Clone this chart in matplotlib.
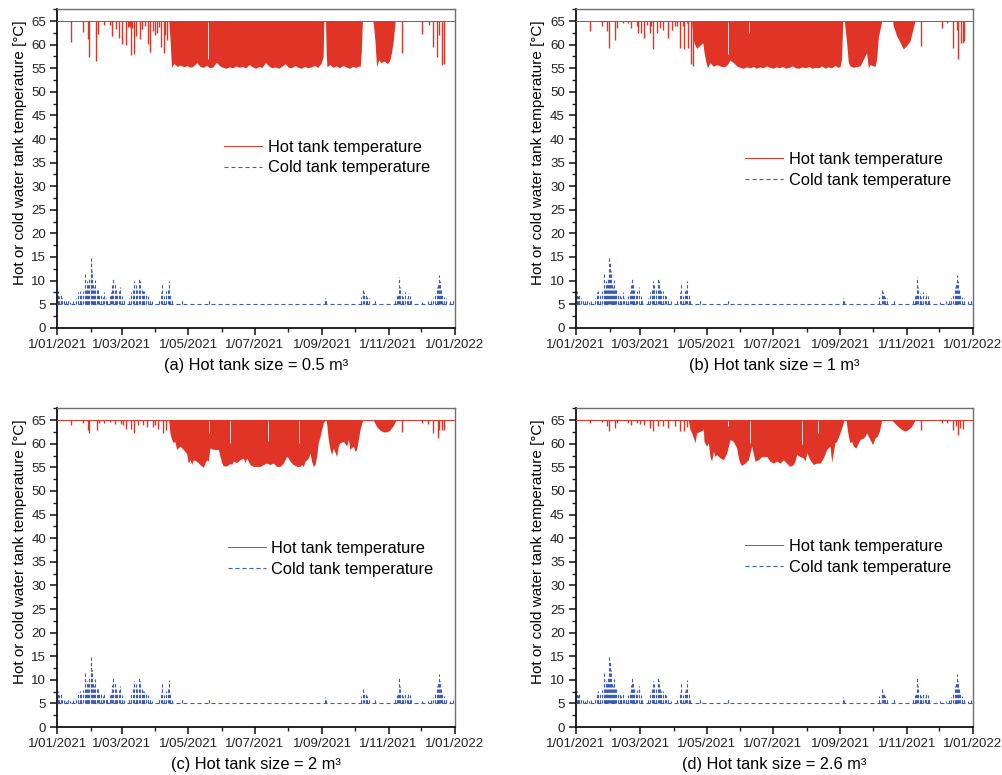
import numpy as np
import matplotlib
matplotlib.use('Agg')
import matplotlib.pyplot as plt
import matplotlib.dates as mdates
from matplotlib.ticker import MultipleLocator, FuncFormatter
import datetime as dt

plt.rcParams['font.family'] = ['Liberation Sans', 'DejaVu Sans']

# ---------------- data (day of year 2021, temperature in °C) ----------------
HOT_SET = 65.0
COLD_SET = 5.0

panel_titles = ['(a) Hot tank size = 0.5 m³', '(b) Hot tank size = 1 m³',
                '(c) Hot tank size = 2 m³', '(d) Hot tank size = 2.6 m³']

# isolated hot-tank dips (day, minimum temperature)
hot_spikes_a = [(12.6, 60.6), (23.9, 62.7), (28.5, 61.1), (29.4, 57.3), (35.5, 56.5), (37.6, 62.3),
                (42.8, 64.1), (48.0, 64.1), (49.9, 61.8), (53.5, 63.4), (56.6, 61.5), (59.7, 60.1),
                (62.8, 59.9), (64.5, 63.7), (65.5, 64.0), (66.5, 63.8), (67.6, 57.8), (68.8, 63.5),
                (70.1, 58.1), (72.2, 61.8), (75.9, 61.1), (78.0, 63.4), (80.5, 64.0), (83.0, 60.2),
                (85.1, 58.5), (87.5, 62.8), (89.7, 62.0), (91.2, 62.5), (93.0, 63.8), (95.2, 59.5),
                (98.2, 58.2), (99.2, 62.0), (101.0, 61.0), (316.0, 58.2), (335.0, 62.2), (341.0, 64.1),
                (345.0, 59.5), (348.8, 57.4), (350.3, 62.0), (352.8, 55.6), (354.9, 55.8)]
hot_spikes_b = [(12.9, 62.8), (24.2, 64.0), (28.5, 63.0), (30.0, 59.3), (35.9, 60.9), (38.0, 63.5),
                (43.5, 64.7), (48.1, 64.6), (50.3, 63.5), (55.8, 63.9), (57.3, 62.5), (60.1, 62.5),
                (62.8, 61.4), (65.0, 64.2), (67.7, 62.5), (69.0, 64.0), (71.1, 59.1), (74.2, 62.5),
                (77.2, 63.5), (79.9, 63.2), (84.9, 61.4), (88.0, 63.2), (91.0, 63.9), (92.6, 63.9),
                (95.6, 59.3), (98.1, 63.9), (99.6, 59.0), (101.7, 64.6), (103.3, 59.3), (105.4, 55.8),
                (107.8, 55.5), (316.9, 59.8), (336.2, 63.5), (341.4, 64.6), (346.3, 59.3), (350.0, 63.2),
                (351.5, 56.9), (353.6, 60.4), (355.5, 60.4), (356.7, 60.8)]
hot_spikes_c = [(12.6, 63.9), (23.9, 64.4), (28.5, 63.0), (29.4, 62.2), (36.2, 62.9), (38.0, 64.4),
                (42.8, 64.4), (48.4, 64.6), (53.3, 64.2), (58.5, 64.2), (60.1, 64.0), (62.7, 63.2),
                (67.3, 63.2), (70.7, 62.3), (74.4, 64.0), (78.9, 64.0), (82.0, 63.6), (87.5, 63.6),
                (89.7, 63.9), (92.7, 63.2), (97.3, 62.3), (99.7, 63.0), (316.0, 62.4), (334.4, 64.4),
                (340.5, 64.1), (345.0, 62.3), (349.0, 61.2), (350.6, 63.0), (352.7, 62.8), (355.2, 62.8)]
hot_spikes_d = [(12.9, 64.3), (24.2, 64.6), (28.5, 63.7), (30.0, 62.7), (35.9, 63.4), (38.0, 64.4),
                (48.1, 64.4), (50.3, 64.0), (55.8, 64.4), (59.0, 64.2), (62.8, 64.0), (67.7, 63.4),
                (71.1, 62.7), (75.7, 63.7), (80.3, 63.7), (84.9, 63.4), (91.0, 63.7), (95.6, 62.7),
                (99.6, 62.7), (102.0, 63.5), (316.9, 63.0), (336.2, 64.4), (341.4, 64.4), (346.3, 62.8),
                (349.3, 63.7), (350.9, 61.9), (353.0, 63.4), (356.0, 63.2)]

# lower envelope of the dense (continuous cycling) periods (day, minimum temperature)
hot_env_a = [(102.3, 65), (103.5, 61), (104.8, 55.2), (107, 56.0), (110, 55.4), (113, 55.7), (116, 55.3),
             (119, 55.6), (122, 55.2), (125, 55.5), (128, 56.2), (131, 55.4), (134, 55.2), (137, 55.6),
             (140, 55.1), (143, 55.3), (146, 56.3), (149, 55.5), (152, 55.2), (155, 55.0), (158, 55.3),
             (161, 55.1), (164, 55.5), (167, 55.2), (170, 55.4), (173, 55.1), (176, 55.8), (179, 55.3),
             (182, 55.0), (185, 55.4), (188, 55.2), (191, 56.2), (194, 55.5), (197, 55.1), (200, 55.3),
             (203, 55.0), (206, 55.4), (209, 56.0), (212, 55.2), (215, 55.1), (218, 55.6), (221, 55.2),
             (224, 55.0), (227, 55.4), (230, 55.1), (233, 55.3), (236, 55.6), (239, 55.2), (242, 56.0),
             (244, 57.5), (244.6, 65),
             (246.2, 65), (246.8, 58), (247.5, 55.3), (250, 55.8), (253, 55.2), (256, 55.5), (259, 55.1),
             (262, 55.6), (265, 55.3), (268, 55.0), (271, 55.4), (274, 55.2), (277, 55.5), (278, 55.4),
             (279, 58.5), (280, 65),
             (289.6, 65), (290.5, 63.4), (291.6, 60.6), (293, 55.3), (295, 56.8), (297, 56.2), (300, 56.5),
             (303, 56.0), (305, 56.6), (306.5, 58.1), (308, 60.2), (309.9, 64.4), (310.2, 65)]
hot_env_b = [(106.3, 65), (107.3, 62), (108.5, 60.4), (110.9, 59.2), (114.0, 59.9), (116.5, 60.4),
             (118.0, 58.0), (119.5, 56.3), (120.8, 55.1), (123.2, 56.2), (126.3, 55.4), (129.3, 55.8),
             (132.4, 55.5), (135.5, 55.3), (138.5, 55.6), (141.6, 56.7), (144.7, 56.2), (147.7, 55.5),
             (150.8, 55.2), (153.8, 55.0), (156.9, 55.3), (160.0, 55.1), (163, 55.4), (166, 55.0),
             (169, 55.3), (172, 55.1), (175, 55.5), (178, 55.2), (181, 55.0), (184, 55.3), (187, 55.1),
             (190, 55.4), (193, 55.0), (196, 55.2), (199, 55.5), (202, 55.1), (205, 55.0), (208, 55.3),
             (211, 55.1), (214, 55.4), (217, 55.0), (220, 55.2), (223, 55.1), (226, 55.5), (229, 55.0),
             (232, 55.3), (235, 55.1), (238, 55.6), (241, 55.2), (242.7, 55.3), (244.2, 57), (245.2, 65),
             (246.7, 65), (248.8, 60.4), (250.4, 56.2), (251.9, 55.5), (255.0, 55.2), (258.0, 55.4),
             (261.1, 55.5), (264.2, 56.9), (267.2, 58.3), (268.8, 55.1), (270.3, 55.8), (273.4, 55.5),
             (274.9, 55.4), (276.4, 56.9), (278.0, 61.7), (279.5, 63.2), (281.0, 65),
             (291.1, 65), (291.7, 64.0), (294.8, 61.9), (297.9, 60.5), (300.9, 59.1), (304.0, 59.8),
             (307.1, 60.8), (310.1, 63.6), (311.7, 65)]
hot_env_c = [(102.2, 65), (103.4, 62.3), (105.0, 60.9), (106.5, 60.2), (108.0, 60.5), (109.5, 58.8),
             (112.6, 59.5), (115.6, 58.8), (118.7, 57.9), (120.2, 55.9), (121.8, 56.6), (123.3, 55.6),
             (124.8, 56.6), (127.9, 56.3), (130.9, 55.6), (134.0, 55.0), (135.5, 55.9), (137.1, 56.6),
             (138.6, 56.3), (140.1, 59.1), (143.2, 58.8), (147.8, 58.8), (150.8, 56.0), (152.4, 55.3),
             (155.4, 55.3), (158.5, 55.8), (160.0, 55.6), (161.6, 56.3), (164.6, 56.0), (167.7, 56.6),
             (170.7, 57.0), (172.3, 56.0), (173.8, 57.0), (176.8, 55.6), (179.9, 55.2), (182.9, 55.2),
             (186.0, 55.2), (189.1, 55.6), (192.1, 55.9), (195.2, 55.6), (198.3, 55.9), (201.3, 55.2),
             (204.4, 55.2), (207.4, 55.9), (210.5, 57.3), (212.0, 57.0), (213.5, 56.3), (216.6, 55.6),
             (219.7, 55.2), (222.7, 55.2), (224.2, 55.6), (225.8, 55.2), (227.3, 56.3), (228.9, 56.6),
             (230.4, 57.0), (231.9, 58.0), (233.4, 56.3), (235.0, 55.2), (236.5, 55.6), (238.0, 57.3),
             (239.5, 60.2), (241.1, 61.5), (242.6, 63.0), (244.1, 64.4), (245.7, 65),
             (246.6, 65), (247.2, 64.3), (248.7, 60.9), (250.3, 58.8), (251.8, 57.7), (253.3, 59.1),
             (256.4, 57.3), (257.9, 59.5), (259.4, 60.2), (262.5, 60.5), (265.6, 59.5), (267.1, 60.9),
             (268.6, 58.8), (271.7, 59.5), (273.2, 58.4), (274.7, 58.8), (276.3, 60.9), (277.8, 63.0),
             (280.3, 65),
             (290.0, 65), (291.6, 64.3), (293.1, 63.6), (296.1, 62.9), (299.2, 62.5), (302.3, 62.5),
             (305.3, 62.9), (308.4, 63.9), (310.8, 65)]
hot_env_d = [(103.3, 65), (104.8, 63.0), (106.3, 62.3), (107.9, 61.3), (109.4, 60.2), (110.9, 62.3),
             (114.0, 62.6), (117.1, 63.0), (117.7, 60.5), (120.1, 59.5), (121.7, 60.2), (123.2, 57.3),
             (124.7, 56.3), (126.3, 58.4), (127.8, 57.3), (129.3, 57.7), (132.4, 57.0), (135.5, 56.6),
             (138.5, 58.0), (141.6, 60.9), (144.7, 60.5), (147.7, 59.1), (149.3, 57.0), (150.8, 55.9),
             (152.3, 55.4), (155.4, 55.9), (158.4, 56.6), (161.5, 59.5), (164.6, 56.3), (167.6, 56.6),
             (170.7, 57.3), (175.3, 57.3), (178.4, 56.3), (181.4, 55.9), (184.5, 56.3), (187.6, 55.9),
             (190.6, 56.6), (193.7, 55.9), (196.7, 55.2), (199.8, 55.6), (201.3, 56.3), (202.9, 57.7),
             (205.9, 57.3), (209.0, 57.0), (210.6, 56.3), (212.1, 58.1), (215.1, 56.6), (218.2, 55.6),
             (221.3, 55.9), (224.3, 55.9), (227.4, 57.0), (230.5, 58.8), (233.5, 59.5), (235.1, 56.1),
             (236.6, 58.2), (238.1, 60.2), (239.7, 60.5), (242.7, 62.3), (244.3, 63.4), (246.4, 65),
             (248.2, 65), (250.4, 61.6), (251.9, 60.2), (253.4, 60.5), (255.0, 59.5), (257.4, 59.1),
             (259.6, 60.2), (261.1, 60.9), (264.2, 61.2), (265.7, 61.6), (267.2, 62.3), (270.3, 60.9),
             (272.7, 59.8), (274.9, 61.2), (277.0, 61.6), (278.9, 62.6), (281.0, 65),
             (290.2, 65), (293.3, 64.3), (296.3, 63.6), (299.4, 63.0), (302.5, 62.7), (305.5, 63.0),
             (308.6, 63.7), (311.7, 65)]

# short periods at set-point inside the dense periods (day, lowest temperature of the gap)
hot_gaps_a = [(138.5, 57.0)]
hot_gaps_b = [(139.6, 58.0), (159.3, 62.5)]
hot_gaps_c = [(139.5, 62.3), (158.5, 60.2), (193.7, 60.6), (222.1, 60.2)]
hot_gaps_d = [(140.1, 63.7), (160.0, 60.2), (207.5, 59.9), (222.8, 62.3)]

# cold-tank temperature peaks (day, maximum temperature), same in all four cases
cold_peaks = [(0.5, 7.7), (1.5, 6.8), (3.0, 7.0), (4.5, 6.2), (6.0, 5.8), (8.0, 5.6), (10.0, 5.9),
              (12.0, 5.5), (14.0, 5.7), (17.5, 6.2), (19.0, 7.5), (20.5, 7.7), (22.0, 7.2), (23.5, 7.8),
              (25.4, 11.4), (26.5, 8.5), (27.5, 9.8), (28.4, 9.4), (29.5, 10.5), (30.5, 14.9),
              (31.2, 13.7), (32.0, 12.0), (33.0, 9.4), (34.0, 8.6), (35.0, 10.2), (36.0, 8.0),
              (37.0, 8.0), (38.5, 7.2), (40.0, 7.0), (41.5, 6.5), (43.0, 7.5), (44.5, 6.2), (46.0, 6.0),
              (48.0, 6.8), (49.5, 7.5), (50.5, 9.0), (51.4, 10.5), (52.5, 9.4), (53.5, 8.4), (55.0, 7.2),
              (56.5, 7.8), (58.0, 8.7), (59.5, 6.8), (61.0, 5.8), (66.0, 6.2), (68.0, 7.5), (69.5, 8.5),
              (70.7, 9.8), (72.0, 9.1), (73.5, 8.0), (75.3, 10.3), (76.3, 9.8), (77.5, 8.5), (78.5, 7.7),
              (80.0, 7.7), (81.5, 7.0), (83.0, 6.8), (85.0, 6.0), (87.0, 5.6), (93.0, 6.0), (95.5, 7.5),
              (96.4, 9.4), (98.0, 6.8), (100.0, 7.7), (101.5, 8.5), (102.5, 9.9), (103.5, 7.0),
              (105.0, 5.8), (114.0, 6.1), (139.5, 6.1), (245.7, 6.3), (246.5, 5.8), (279.0, 6.5),
              (280.9, 8.0), (281.8, 7.5), (283.0, 7.0), (284.5, 6.5), (286.0, 6.2), (292.0, 5.9),
              (310.0, 6.0), (311.5, 6.8), (313.0, 7.0), (313.9, 10.7), (314.8, 8.7), (316.0, 7.3),
              (317.5, 6.5), (319.0, 7.5), (320.5, 6.3), (322.0, 7.3), (323.5, 6.8), (325.0, 6.0),
              (335.0, 5.5), (340.0, 5.6), (343.0, 5.8), (345.0, 6.3), (347.0, 7.3), (348.5, 8.7),
              (349.5, 9.4), (350.3, 11.2), (351.2, 9.8), (352.3, 8.0), (353.5, 7.0), (355.0, 6.5),
              (357.0, 6.2), (360.0, 5.6), (363.0, 5.8)]

hot_spikes = [hot_spikes_a, hot_spikes_b, hot_spikes_c, hot_spikes_d]
hot_envs = [hot_env_a, hot_env_b, hot_env_c, hot_env_d]
hot_gaps = [hot_gaps_a, hot_gaps_b, hot_gaps_c, hot_gaps_d]

# ---------------- layout ----------------
RED = '#e03426'
BLUE = '#3b5bb8'
W, H = 1003, 775
axes_px = [(57.3, 9.3, 455.0, 327.7), (576.0, 9.3, 973.0, 327.7),
           (57.3, 408.3, 455.0, 727.1), (576.0, 408.3, 973.0, 727.1)]
legend_anchor = [(0.42, 0.591), (0.426, 0.553), (0.429, 0.585), (0.426, 0.590)]

fig = plt.figure(figsize=(W / 100, H / 100), dpi=100)
t0 = mdates.date2num(dt.datetime(2021, 1, 1))
t1 = mdates.date2num(dt.datetime(2022, 1, 1))


def fmt_date(x, pos=None):
    d = mdates.num2date(x)
    return f"{d.day}/{d.month:02d}/{d.year}"


for i in range(4):
    l, t, r, b = axes_px[i]
    ax = fig.add_axes([l / W, 1 - b / H, (r - l) / W, (b - t) / H])

    # hot tank
    ax.plot([t0, t1], [HOT_SET, HOT_SET], color=RED, lw=0.7, label='Hot tank temperature', zorder=3)
    env = np.array(hot_envs[i])
    ax.fill_between(t0 + env[:, 0], env[:, 1], HOT_SET, color=RED, lw=0, zorder=2)
    sp = np.array(hot_spikes[i])
    ax.vlines(t0 + sp[:, 0], sp[:, 1], HOT_SET, color=RED, lw=1.0, zorder=2)
    gp = np.array(hot_gaps[i])
    ax.vlines(t0 + gp[:, 0], gp[:, 1], HOT_SET - 0.2, color='white', lw=0.7, alpha=0.8, zorder=2.5)

    # cold tank
    ax.plot([t0, t1], [COLD_SET, COLD_SET], color=BLUE, lw=0.8, ls=(0, (3.6, 2.7)),
            label='Cold tank temperature', zorder=3)
    cp = np.array(cold_peaks)
    ax.vlines(t0 + cp[:, 0], COLD_SET, cp[:, 1], color=BLUE, lw=0.8,
              linestyles=[(0, (3.0, 1.8))], zorder=2)

    ax.set_xlim(t0, t1)
    ax.set_ylim(0, 67.5)
    ax.xaxis.set_major_locator(mdates.MonthLocator(bymonth=[1, 3, 5, 7, 9, 11]))
    ax.xaxis.set_minor_locator(mdates.MonthLocator())
    ax.xaxis.set_major_formatter(FuncFormatter(fmt_date))
    ax.yaxis.set_major_locator(MultipleLocator(5))
    ax.yaxis.set_minor_locator(MultipleLocator(2.5))
    ax.tick_params(axis='both', which='major', direction='out', length=5, width=1.2,
                   labelsize=9.5, colors='#222222', pad=3)
    ax.tick_params(axis='both', which='minor', direction='out', length=3, width=1.0, colors='#222222')
    ax.tick_params(top=False, right=False, which='both')
    for s in ['left', 'bottom']:
        ax.spines[s].set_color('#111111')
        ax.spines[s].set_linewidth(1.3)
    for s in ['top', 'right']:
        ax.spines[s].set_color('#707070')
        ax.spines[s].set_linewidth(1.0)

    ax.set_ylabel('Hot or cold water tank temperature [°C]', fontsize=11.0)
    ax.yaxis.set_label_coords(-0.077, 0.551)
    ax.set_xlabel(panel_titles[i], fontsize=11.8, labelpad=5)

    leg = ax.legend(loc='upper left', bbox_to_anchor=legend_anchor[i], frameon=False,
                    fontsize=11.8, handlelength=2.3, handletextpad=0.35, labelspacing=0.36,
                    borderpad=0, borderaxespad=0)

fig.savefig('out.png', dpi=100)
